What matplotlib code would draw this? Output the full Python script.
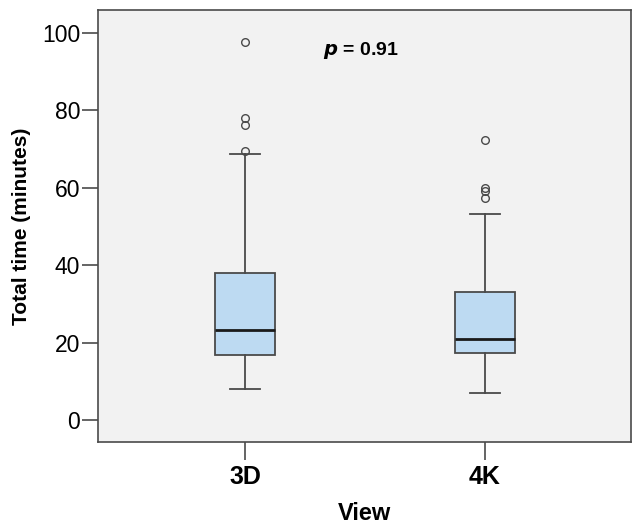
import matplotlib
matplotlib.use("Agg")
import matplotlib.pyplot as plt
from matplotlib import font_manager

# values
views = ["3D", "4K"]
q1 = [16.8, 17.4]
medians = [23.2, 20.8]
q3 = [37.9, 33.0]
whisker_lo = [7.9, 7.0]
whisker_hi = [68.6, 53.3]
outliers = [[69.5, 76.2, 77.9, 97.6], [57.2, 59.1, 59.8, 72.4]]
yticks = [0, 20, 40, 60, 80, 100]

names = {f.name for f in font_manager.fontManager.ttflist}
font = "Liberation Sans Narrow" if "Liberation Sans Narrow" in names else "Liberation Sans"
plt.rcParams["font.family"] = [font, "DejaVu Sans"]

fig = plt.figure(figsize=(6.32, 5.24), dpi=100)
ax = fig.add_axes([0.1546, 0.157, 0.8434, 0.823])
ax.set_facecolor("#f2f2f2")

stats = []
for i in range(len(views)):
    stats.append({"label": views[i], "q1": q1[i], "med": medians[i], "q3": q3[i],
                  "whislo": whisker_lo[i], "whishi": whisker_hi[i], "fliers": outliers[i]})

edge = "#4a4a4a"
ax.bxp(stats, positions=[1, 2], widths=0.25, patch_artist=True, showfliers=True,
       boxprops=dict(facecolor="#bddaf2", edgecolor=edge, linewidth=1.3),
       medianprops=dict(color="#1a1a1a", linewidth=2.0),
       whiskerprops=dict(color=edge, linewidth=1.3),
       capprops=dict(color=edge, linewidth=1.3),
       capwidths=0.125,
       flierprops=dict(marker="o", markerfacecolor="none", markeredgecolor=edge,
                       markersize=5.5, markeredgewidth=1.0))

ax.set_xlim(0.386, 2.608)
ax.set_ylim(-5.6, 105.7)
ax.set_yticks(yticks)
ax.set_yticklabels([str(t) for t in yticks], fontsize=16.5)
ax.set_xticks([1, 2])
ax.set_xticklabels(views, fontsize=18, fontweight="bold")
ax.tick_params(axis="y", length=11.5, width=1.2, color=edge, pad=1)
ax.tick_params(axis="x", length=13, width=1.2, color=edge, pad=4)
for s in ax.spines.values():
    s.set_color(edge)
    s.set_linewidth(1.2)

ax.set_ylabel("Total time (minutes)", fontsize=15, fontweight="bold", labelpad=8)
ax.set_xlabel("View", fontsize=17, fontweight="bold", labelpad=9)

ax.text(1.483, 95.5, r"$\boldsymbol{p}$ = 0.91", fontsize=14, fontweight="bold",
        ha="center", va="center")

fig.savefig("out.png", dpi=100)
